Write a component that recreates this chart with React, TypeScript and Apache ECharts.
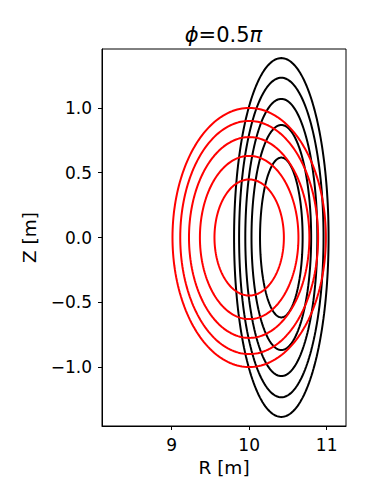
import React, { useEffect, useRef } from "react";
import * as echarts from "echarts";

// Flux-surface contours as ellipses (centre, half-width, half-height)
const redCenterR = 10.0;
const redHalfWidth = [0.99, 0.89, 0.777, 0.636, 0.448];
const redHalfHeight = [1.0, 0.9, 0.775, 0.63, 0.448];

const blackCenterR = 10.415;
const blackHalfWidth = [0.61, 0.545, 0.465, 0.385, 0.275];
const blackHalfHeight = [1.385, 1.233, 1.07, 0.868, 0.617];

const xTicks = [9, 10, 11];
const yTicks = [-1.0, -0.5, 0.0, 0.5, 1.0];

const ellipse = (c: number, a: number, b: number) => {
  const pts: number[][] = [];
  const n = 200;
  for (let i = 0; i <= n; i++) {
    const t = (i / n) * 2 * Math.PI;
    pts.push([c + a * Math.cos(t), b * Math.sin(t)]);
  }
  return pts;
};

const FONT = "DejaVu Sans";
const FS = 17;
const NFS = 18.5;

export default function App() {
  const ref = useRef<HTMLDivElement>(null);
  useEffect(() => {
    document.body.style.margin = "0";
    const chart = echarts.init(ref.current!, null, { renderer: "svg" });
    const series: any[] = [];
    blackHalfWidth.forEach((a, i) => {
      series.push({
        type: "line",
        data: ellipse(blackCenterR, a, blackHalfHeight[i]),
        showSymbol: false,
        lineStyle: { color: "#000000", width: 2 },
        silent: true,
      });
    });
    redHalfWidth.forEach((a, i) => {
      series.push({
        type: "line",
        data: ellipse(redCenterR, a, redHalfHeight[i]),
        showSymbol: false,
        lineStyle: { color: "#ff0000", width: 2 },
        silent: true,
      });
    });
    chart.setOption({
      animation: false,
      grid: {
        left: 102,
        right: 20,
        top: 49,
        bottom: 74,
        show: true,
        borderColor: "#000",
        borderWidth: 1,
        backgroundColor: "#fff",
      },
      xAxis: {
        type: "value",
        min: 8.1,
        max: 11.25,
        name: "R [m]",
        nameLocation: "middle",
        nameGap: 27,
        nameTextStyle: { fontFamily: FONT, fontSize: NFS, color: "#000" },
        axisLine: { show: true, onZero: false, lineStyle: { color: "#000", width: 1 } },
        axisTick: { show: true, inside: false, length: 4, customValues: xTicks, lineStyle: { color: "#000" } },
        axisLabel: {
          customValues: xTicks,
          fontFamily: FONT,
          fontSize: FS,
          color: "#000",
          margin: 10,
          formatter: (v: number) => String(v),
        },
        splitLine: { show: false },
      },
      yAxis: {
        type: "value",
        min: -1.455,
        max: 1.455,
        name: "Z [m]",
        nameLocation: "middle",
        nameGap: 63,
        nameTextStyle: { fontFamily: FONT, fontSize: NFS, color: "#000" },
        axisLine: { show: true, onZero: false, lineStyle: { color: "#000", width: 1 } },
        axisTick: { show: true, inside: false, length: 4, customValues: yTicks, lineStyle: { color: "#000" } },
        axisLabel: {
          customValues: yTicks,
          fontFamily: FONT,
          fontSize: FS,
          color: "#000",
          margin: 10,
          formatter: (v: number) => (v < 0 ? "\u2212" : "") + Math.abs(v).toFixed(1),
        },
        splitLine: { show: false },
      },
      graphic: [
        {
          type: "text",
          x: 223.5,
          y: 34.5,
          style: {
            text: "{i|\u03d5}=0.5{i|\u03c0}",
            fontFamily: FONT,
            fontSize: 21,
            fill: "#000",
            align: "center",
            verticalAlign: "middle",
            rich: {
              i: { fontFamily: FONT, fontSize: 21, fontStyle: "italic", fill: "#000" },
            },
          },
        },
      ],
      series,
    });
    return () => chart.dispose();
  }, []);
  return <div ref={ref} style={{ width: 366, height: 500, background: "#fff" }} />;
}
